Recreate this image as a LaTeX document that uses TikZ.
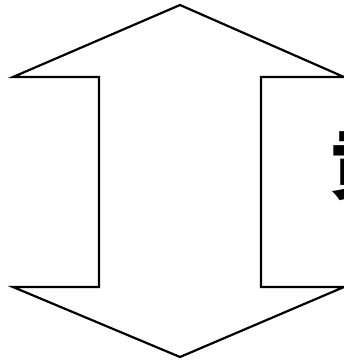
\documentclass[tikz,border=0pt]{standalone}
\usepackage{fontspec}
\newfontfamily\cjk{Noto Sans CJK SC}
\begin{document}
\begin{tikzpicture}[x=1pt,y=-1pt,
  arrowshape/.style={draw=black,line width=2.2pt,line join=miter,fill=white},
  cut/.style={font=\cjk\bfseries\fontsize{76}{76}\selectfont,inner sep=0pt,anchor=north west}]
\useasboundingbox (0,0) rectangle (344,360);
\draw[arrowshape] (180,5) -- (344,77) -- (261,77) -- (261,287) -- (344,287)
  -- (180,357) -- (13,287) -- (99,287) -- (99,77) -- (13,77) -- cycle;
\node[cut] (ch) at (329,131) {贡};
\end{tikzpicture}
\end{document}
